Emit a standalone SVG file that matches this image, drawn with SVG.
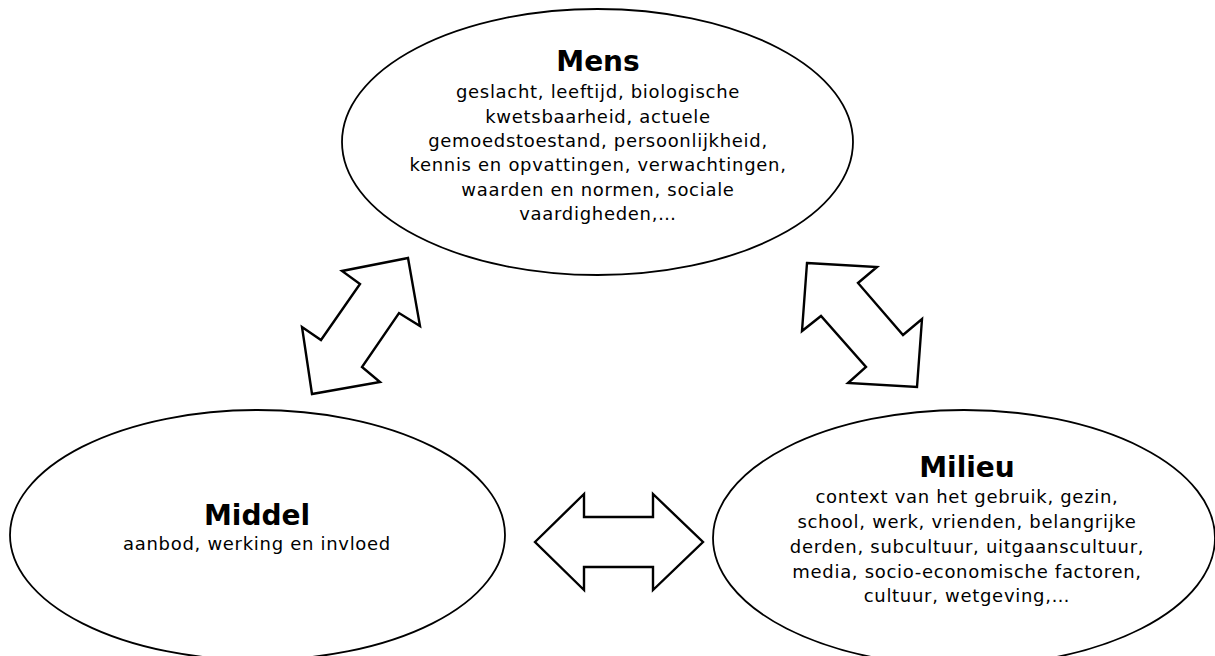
<svg xmlns="http://www.w3.org/2000/svg" width="1215" height="656" viewBox="0 0 1215 656">
<style>
.node{fill:#fff;stroke:#000;stroke-width:1.8}
.arr{fill:#fff;stroke:#000;stroke-width:2.4;stroke-linejoin:miter}
.t{font-family:"DejaVu Sans",Verdana,sans-serif;font-weight:bold;font-size:28px;fill:#000;text-anchor:middle}
.b{font-family:"DejaVu Sans",Verdana,sans-serif;font-size:18px;letter-spacing:0.7px;fill:#000;text-anchor:middle}
</style>
<rect width="1215" height="656" fill="#fff"/>
<g id="mens">
<ellipse class="node" cx="597.5" cy="142" rx="255.5" ry="133"/>
<text class="t" x="598" y="71">Mens</text>
<text class="b" x="598" y="98">geslacht, leeftijd, biologische</text>
<text class="b" x="598" y="122.5">kwetsbaarheid, actuele</text>
<text class="b" x="598" y="147">gemoedstoestand, persoonlijkheid,</text>
<text class="b" x="598" y="171">kennis en opvattingen, verwachtingen,</text>
<text class="b" x="598" y="195.5">waarden en normen, sociale</text>
<text class="b" x="598" y="220">vaardigheden,…</text>
</g>
<g id="middel">
<ellipse class="node" cx="257.5" cy="535" rx="247.5" ry="125"/>
<text class="t" x="257" y="525">Middel</text>
<text class="b" x="257" y="550">aanbod, werking en invloed</text>
</g>
<g id="milieu">
<ellipse class="node" cx="964" cy="538" rx="251" ry="128"/>
<text class="t" x="967" y="477">Milieu</text>
<text class="b" x="967" y="503">context van het gebruik, gezin,</text>
<text class="b" x="967" y="528">school, werk, vrienden, belangrijke</text>
<text class="b" x="967" y="553">derden, subcultuur, uitgaanscultuur,</text>
<text class="b" x="967" y="578">media, socio-economische factoren,</text>
<text class="b" x="967" y="602">cultuur, wetgeving,…</text>
</g>
<g id="connectors">
<polygon class="arr" points="408,258 342,271 360,284 321,340 302,327 312,394 380,382 362,367 399,313 420,326"/>
<polygon class="arr" points="807,263 877,267 858,283 903,335 922,319 917,387 848,383 866,367 821,316 802,331"/>
<polygon class="arr" points="535,542 584,494 584,517 653,517 653,494 703,542 653,590 653,567 584,567 584,590"/>
</g>
</svg>
